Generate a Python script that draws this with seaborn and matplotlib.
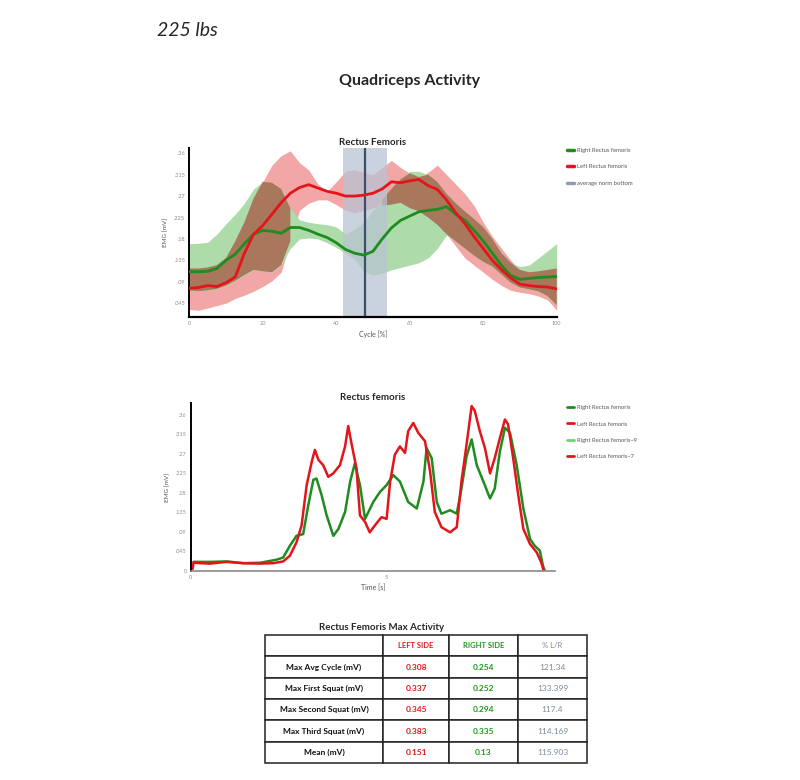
import matplotlib.pyplot as plt
import numpy as np
import seaborn as sns
from matplotlib.lines import Line2D
from matplotlib.patches import Patch

sns.set_style('white')
plt.rcParams['font.family'] = ['Lato', 'DejaVu Sans']

# --- data read from the page ---
# average cycle (%), right = green, left = red
cycle = [0, 2.5, 5, 7.5, 10, 12.5, 15, 17.5, 20, 22.5, 25, 27.5, 30, 32.5, 35, 37.5, 40,
         42.5, 45, 47.5, 50, 52.5, 55, 57.5, 60, 62.5, 65, 67.5, 70, 72.5, 75, 77.5, 80,
         82.5, 85, 87.5, 90, 92.5, 95, 97.5, 100]
right_mean = [0.111, 0.111, 0.112, 0.118, 0.135, 0.148, 0.170, 0.190, 0.198, 0.196, 0.192,
              0.204, 0.204, 0.198, 0.190, 0.183, 0.172, 0.158, 0.150, 0.146, 0.154, 0.180,
              0.203, 0.219, 0.228, 0.237, 0.240, 0.242, 0.248, 0.232, 0.219, 0.198, 0.176,
              0.150, 0.124, 0.103, 0.095, 0.097, 0.099, 0.100, 0.101]
right_upper = [0.170, 0.171, 0.173, 0.190, 0.212, 0.232, 0.255, 0.285, 0.300, 0.298, 0.285,
               0.245, 0.220, 0.215, 0.212, 0.210, 0.205, 0.190, 0.200, 0.215, 0.240, 0.262,
               0.285, 0.305, 0.322, 0.322, 0.315, 0.300, 0.275, 0.255, 0.238, 0.222, 0.205,
               0.180, 0.150, 0.130, 0.122, 0.125, 0.140, 0.155, 0.170]
right_lower = [0.072, 0.070, 0.072, 0.075, 0.082, 0.092, 0.104, 0.115, 0.112, 0.110, 0.125,
               0.160, 0.180, 0.182, 0.180, 0.172, 0.162, 0.150, 0.138, 0.112, 0.104, 0.108,
               0.115, 0.120, 0.125, 0.130, 0.140, 0.160, 0.188, 0.175, 0.160, 0.145, 0.132,
               0.122, 0.105, 0.088, 0.078, 0.074, 0.070, 0.060, 0.041]
left_mean = [0.076, 0.078, 0.082, 0.080, 0.088, 0.100, 0.150, 0.190, 0.208, 0.232, 0.256,
             0.276, 0.288, 0.294, 0.287, 0.280, 0.276, 0.270, 0.270, 0.272, 0.276, 0.285,
             0.300, 0.298, 0.302, 0.305, 0.292, 0.284, 0.262, 0.235, 0.212, 0.185, 0.160,
             0.135, 0.115, 0.098, 0.085, 0.082, 0.080, 0.079, 0.075]
left_upper = [0.118, 0.118, 0.120, 0.125, 0.140, 0.175, 0.215, 0.265, 0.300, 0.335, 0.355,
              0.365, 0.340, 0.325, 0.295, 0.280, 0.300, 0.322, 0.325, 0.320, 0.315, 0.330,
              0.345, 0.330, 0.318, 0.310, 0.320, 0.335, 0.315, 0.295, 0.275, 0.250, 0.215,
              0.185, 0.160, 0.135, 0.115, 0.110, 0.112, 0.115, 0.118]
left_lower = [0.032, 0.030, 0.035, 0.040, 0.045, 0.055, 0.062, 0.070, 0.080, 0.092, 0.110,
              0.175, 0.240, 0.255, 0.262, 0.262, 0.252, 0.240, 0.235, 0.240, 0.245, 0.250,
              0.252, 0.256, 0.245, 0.238, 0.225, 0.210, 0.190, 0.165, 0.140, 0.125, 0.110,
              0.095, 0.082, 0.072, 0.068, 0.065, 0.060, 0.052, 0.030]
norm_span = (41.7, 53.7)
norm_bottom = 47.7

# raw signal over time (s)
t_left = [0.05, 0.07, 0.49, 0.92, 1.34, 1.77, 2.11, 2.36, 2.53, 2.70, 2.83, 2.96, 3.09, 3.17,
          3.26, 3.38, 3.51, 3.64, 3.81, 3.94, 4.02, 4.11, 4.23, 4.32, 4.45, 4.57, 4.70, 4.87,
          5.00, 5.09, 5.21, 5.34, 5.47, 5.55, 5.68, 5.81, 5.98, 6.11, 6.23, 6.40, 6.62, 6.79,
          6.91, 7.04, 7.17, 7.25, 7.38, 7.51, 7.64, 7.76, 7.89, 8.02, 8.10, 8.23, 8.36, 8.49,
          8.66, 8.83, 8.95, 9.01]
emg_left = [0.005, 0.019, 0.017, 0.021, 0.018, 0.017, 0.018, 0.022, 0.035, 0.066, 0.105,
            0.198, 0.252, 0.279, 0.256, 0.244, 0.217, 0.225, 0.244, 0.287, 0.334, 0.291,
            0.237, 0.128, 0.113, 0.089, 0.105, 0.124, 0.120, 0.206, 0.268, 0.287, 0.272,
            0.322, 0.341, 0.318, 0.299, 0.229, 0.136, 0.101, 0.089, 0.101, 0.206, 0.291,
            0.380, 0.369, 0.322, 0.283, 0.225, 0.260, 0.306, 0.349, 0.338, 0.260, 0.175,
            0.097, 0.062, 0.043, 0.019, 0.0]
t_right = [0.07, 0.49, 0.92, 1.34, 1.77, 2.19, 2.36, 2.53, 2.70, 2.87, 3.00, 3.13, 3.21,
           3.34, 3.47, 3.64, 3.77, 3.94, 4.07, 4.19, 4.32, 4.45, 4.66, 4.83, 5.00, 5.17,
           5.34, 5.55, 5.77, 5.94, 6.02, 6.15, 6.28, 6.40, 6.62, 6.79, 6.91, 7.04, 7.17,
           7.30, 7.47, 7.64, 7.76, 7.89, 8.02, 8.15, 8.32, 8.49, 8.66, 8.78, 8.91, 8.99, 9.04]
emg_right = [0.021, 0.021, 0.022, 0.018, 0.019, 0.026, 0.031, 0.058, 0.081, 0.085, 0.151,
             0.210, 0.213, 0.175, 0.128, 0.081, 0.097, 0.136, 0.206, 0.248, 0.198, 0.120,
             0.159, 0.182, 0.198, 0.221, 0.206, 0.159, 0.144, 0.206, 0.283, 0.260, 0.159,
             0.132, 0.140, 0.132, 0.190, 0.264, 0.303, 0.244, 0.206, 0.167, 0.190, 0.275,
             0.330, 0.318, 0.244, 0.144, 0.074, 0.058, 0.047, 0.012, 0.0]

yticks = [0.045, 0.09, 0.135, 0.18, 0.225, 0.27, 0.315, 0.36]
ytick_labels = ['.045', '.09', '.135', '.18', '.225', '.27', '.315', '.36']

table_rows = ['Max Avg Cycle (mV)', 'Max First Squat (mV)', 'Max Second Squat (mV)',
              'Max Third Squat (mV)', 'Mean (mV)']
left_max = ['0.308', '0.337', '0.345', '0.383', '0.151']
right_max = ['0.254', '0.252', '0.294', '0.335', '0.13']
ratio = ['121.34', '133.399', '117.4', '114.169', '115.903']

GREEN = '#1e8c1e'
RED = '#e3151b'
TICK_GREY = '#8c8c8c'

fig = plt.figure(figsize=(8, 7.8), dpi=100)
fig.text(157 / 800, 1 - 30 / 780, '225 lbs', fontsize=14, style='italic', va='center')
fig.text(410 / 800, 1 - 81 / 780, 'Quadriceps Activity', fontsize=11.5, weight='bold',
         ha='center', va='center')


def style_axes(ax):
    for s in ['top', 'right']:
        ax.spines[s].set_visible(False)
    ax.spines['left'].set_color('black')
    ax.spines['left'].set_linewidth(1.4)
    ax.tick_params(axis='both', labelsize=4, colors=TICK_GREY, length=0, pad=3)
    ax.xaxis.label.set_color('#555555')
    ax.yaxis.label.set_color('#555555')


# --- average cycle chart ---
ax1 = fig.add_axes([189.3 / 800, 1 - 317 / 780, 367.4 / 800, 169 / 780])
cyc = np.array(cycle)
ru, rl = np.array(left_upper), np.array(left_lower)
gu, gl = np.array(right_upper), np.array(right_lower)
ax1.fill_between(cyc, rl, ru, color='#f3a6a6', lw=0, zorder=1)
ax1.fill_between(cyc, gl, gu, color='#addcaa', lw=0, zorder=1.1)
top = np.minimum(ru, gu)
bot = np.maximum(rl, gl)
ax1.fill_between(cyc, bot, top, where=top > bot, color='#a9775c', lw=0, zorder=1.2)
ax1.axvspan(*norm_span, color='#b8c3d2', alpha=0.75, lw=0, zorder=1.5)
ax1.axvline(norm_bottom, color='#3d4f69', lw=1.6, zorder=1.6)
sns.lineplot(x=cycle, y=right_mean, color=GREEN, lw=2, ax=ax1, zorder=3)
sns.lineplot(x=cycle, y=left_mean, color=RED, lw=2, ax=ax1, zorder=3)
ax1.set_xlim(0, 100)
ax1.set_ylim(0.016, 0.371)
ax1.set_xticks([0, 20, 40, 60, 80, 100])
ax1.set_yticks(yticks)
ax1.set_yticklabels(ytick_labels)
ax1.set_xlabel('Cycle [%]', fontsize=5, labelpad=3)
ax1.set_ylabel('EMG [mV]', fontsize=4.5, labelpad=4)
ax1.set_title('Rectus Femoris', fontsize=7, weight='bold', pad=2)
style_axes(ax1)
ax1.spines['bottom'].set_color('black')
ax1.spines['bottom'].set_linewidth(1.6)

h1 = [Line2D([], [], color=GREEN, lw=2.5), Line2D([], [], color=RED, lw=2.5),
      Line2D([], [], color='#8e9bb0', lw=2.5)]
fig.legend(h1, ['Right Rectus femoris', 'Left Rectus femoris', 'average norm bottom'],
           loc='upper left', bbox_to_anchor=(562 / 800, 1 - 143 / 780), frameon=False,
           fontsize=4.2, handlelength=1.2, handletextpad=0.5, labelspacing=1.9,
           labelcolor='#555555')

# --- raw signal chart ---
ax2 = fig.add_axes([190.7 / 800, 1 - 571 / 780, 364 / 800, 168 / 780])
sns.lineplot(x=t_right, y=emg_right, color=GREEN, lw=1.8, ax=ax2)
sns.lineplot(x=t_left, y=emg_left, color=RED, lw=1.8, ax=ax2)
ax2.set_xlim(0, 9.29)
ax2.set_ylim(0, 0.387)
ax2.set_xticks([0, 5])
ax2.set_yticks([0] + yticks)
ax2.set_yticklabels(['0'] + ytick_labels)
ax2.set_xlabel('Time [s]', fontsize=5, labelpad=3)
ax2.set_ylabel('EMG [mV]', fontsize=4.5, labelpad=4)
ax2.set_title('Rectus femoris', fontsize=7, weight='bold', pad=2)
style_axes(ax2)
ax2.spines['bottom'].set_color('#8a8a8a')
ax2.spines['bottom'].set_linewidth(1.2)

h2 = [Line2D([], [], color=GREEN, lw=2), Line2D([], [], color=RED, lw=2),
      Line2D([], [], color='#6fd36f', lw=2), Line2D([], [], color=RED, lw=2)]
fig.legend(h2, ['Right Rectus femoris', 'Left Rectus femoris', 'Right Rectus femoris~9',
                'Left Rectus femoris~7'],
           loc='upper left', bbox_to_anchor=(562 / 800, 1 - 400 / 780), frameon=False,
           fontsize=4.2, handlelength=1.2, handletextpad=0.5, labelspacing=1.9,
           labelcolor='#555555')

# --- table ---
fig.text(382 / 800, 1 - 627 / 780, 'Rectus Femoris Max Activity', fontsize=7,
         weight='bold', ha='center', va='center')
axt = fig.add_axes([265 / 800, 1 - 763 / 780, 322 / 800, 128 / 780])
axt.axis('off')
cells = [['', 'LEFT SIDE', 'RIGHT SIDE', '% L/R']]
for r, lv, rv, pv in zip(table_rows, left_max, right_max, ratio):
    cells.append([r, lv, rv, pv])
tbl = axt.table(cellText=cells, colWidths=[118, 66, 69, 69], bbox=[0, 0, 1, 1],
                cellLoc='center')
tbl.auto_set_font_size(False)
col_colors = ['#111111', RED, '#1c9a1c', '#7d8a9a']
for (row, col), cell in tbl.get_celld().items():
    cell.set_edgecolor('#222222')
    cell.set_linewidth(1.1)
    txt = cell.get_text()
    txt.set_color(col_colors[col])
    txt.set_fontsize(6 if row > 0 else 5.5)
    if col < 3:
        txt.set_fontweight('bold')

fig.savefig('out.png', dpi=100)
